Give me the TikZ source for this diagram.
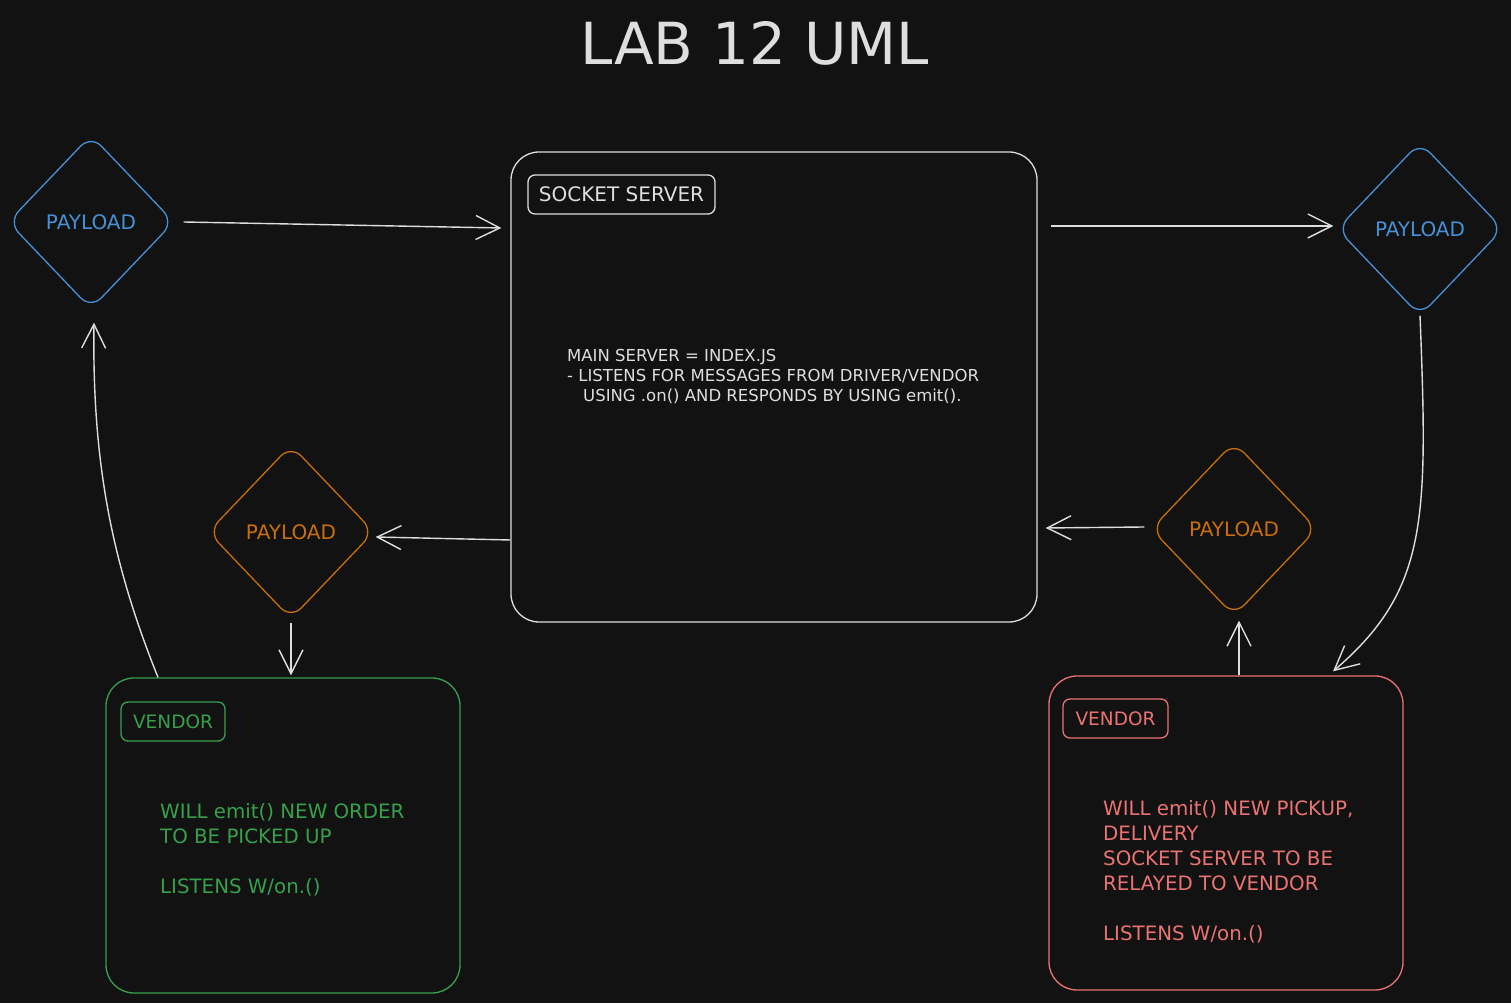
\documentclass[tikz,border=0pt]{standalone}
\usepackage{fontspec}
\setmainfont{DejaVu Sans}
\usetikzlibrary{arrows.meta,shapes.geometric}
\definecolor{bgc}{RGB}{18,18,18}
\definecolor{linec}{RGB}{222,222,222}
\definecolor{bluec}{RGB}{70,145,215}
\definecolor{orangec}{RGB}{200,110,10}
\definecolor{greenc}{RGB}{55,160,75}
\definecolor{redc}{RGB}{235,115,115}
\tikzset{
  bigbox/.style={rectangle, rounded corners=28pt, line width=1.3pt, inner sep=0pt},
  tagbox/.style={rectangle, rounded corners=7pt, line width=1.3pt, inner sep=0pt, minimum height=39pt},
  pdiamond/.style={diamond, aspect=1, minimum width=166pt, minimum height=174pt, inner sep=0pt,
                   rounded corners=15pt, line width=1.3pt, font=\fontsize{20}{24}\selectfont},
  bodytext/.style={anchor=north west, inner sep=0pt, align=left, font=\fontsize{19.8}{25}\selectfont},
  conn/.style={draw=linec, line width=1.4pt, -{Straight Barb[length=24pt,width=24pt,line width=1.4pt]}}
}
\begin{document}
\begin{tikzpicture}[x=1pt,y=1pt]
\fill[bgc] (0,0) rectangle (1511,1003);
\useasboundingbox (0,0) rectangle (1511,1003);

% title
\node[font=\fontsize{58}{70}\selectfont, text=linec] (title) at (755,960) {LAB 12 UML};

% socket server
\node[bigbox, draw=linec, minimum width=526pt, minimum height=470pt] (ss) at (774,616) {};
\node[tagbox, draw=linec, text=linec, minimum width=187pt, font=\fontsize{20}{24}\selectfont] (ssl) at (621.5,808.5) {SOCKET SERVER};
\node[anchor=north west, inner sep=0pt, align=left, text=linec, font=\fontsize{16.5}{20}\selectfont] (sst) at (567,653.5)
  {MAIN SERVER = INDEX.JS\\- LISTENS FOR MESSAGES FROM DRIVER/VENDOR\\\hspace*{16pt}USING .on() AND RESPONDS BY USING emit().};

% payload diamonds
\node[pdiamond, draw=bluec, text=bluec] (bl) at (91,781) {PAYLOAD};
\node[pdiamond, draw=bluec, text=bluec] (br) at (1420,774) {PAYLOAD};
\node[pdiamond, draw=orangec, text=orangec] (ol) at (291,471) {PAYLOAD};
\node[pdiamond, draw=orangec, text=orangec] (or) at (1234,474) {PAYLOAD};

% green vendor
\node[bigbox, draw=greenc, minimum width=354pt, minimum height=315pt] (gv) at (283,167.5) {};
\node[tagbox, draw=greenc, text=greenc, minimum width=104pt, font=\fontsize{18.5}{22}\selectfont] (gvl) at (173,281.5) {VENDOR};
\node[bodytext, text=greenc] (gvt) at (160,200)
  {WILL emit() NEW ORDER\\TO BE PICKED UP\\[25pt]LISTENS W/on.()};

% red vendor
\node[bigbox, draw=redc, minimum width=354pt, minimum height=314pt] (rv) at (1226,170) {};
\node[tagbox, draw=redc, text=redc, minimum width=105pt, font=\fontsize{18.5}{22}\selectfont] (rvl) at (1115.5,284.5) {VENDOR};
\node[bodytext, text=redc] (rvt) at (1103,203)
  {WILL emit() NEW PICKUP,\\DELIVERY\\SOCKET SERVER TO BE\\RELAYED TO VENDOR\\[25pt]LISTENS W/on.()};

% connectors
\draw[conn] ([xshift=9pt]bl.east) -- ([xshift=-9pt,yshift=159pt]ss.west);
\draw[conn] ([xshift=13pt,yshift=161pt]ss.east) -- ([xshift=-3pt,yshift=3pt]br.west);
\draw[conn] ([yshift=1pt]br.south) .. controls (1428,483) and (1428,413) .. ([xshift=107pt,yshift=4pt]rv.north);
\draw[conn] ([yshift=-153pt]ss.west) -- ([xshift=1pt,yshift=-5pt]ol.east);
\draw[conn] ([xshift=-6pt,yshift=2pt]or.west) -- ([xshift=8pt,yshift=-141pt]ss.east);
\draw[conn] ([yshift=-3pt]ol.south) -- ([xshift=8pt,yshift=2pt]gv.north);
\draw[conn] ([xshift=13pt]rv.north) -- ([xshift=5pt,yshift=-4pt]or.south);
\draw[conn] ([xshift=-125pt]gv.north) .. controls (112,440) and (92,540) .. ([xshift=3pt,yshift=-13pt]bl.south);
\end{tikzpicture}
\end{document}
